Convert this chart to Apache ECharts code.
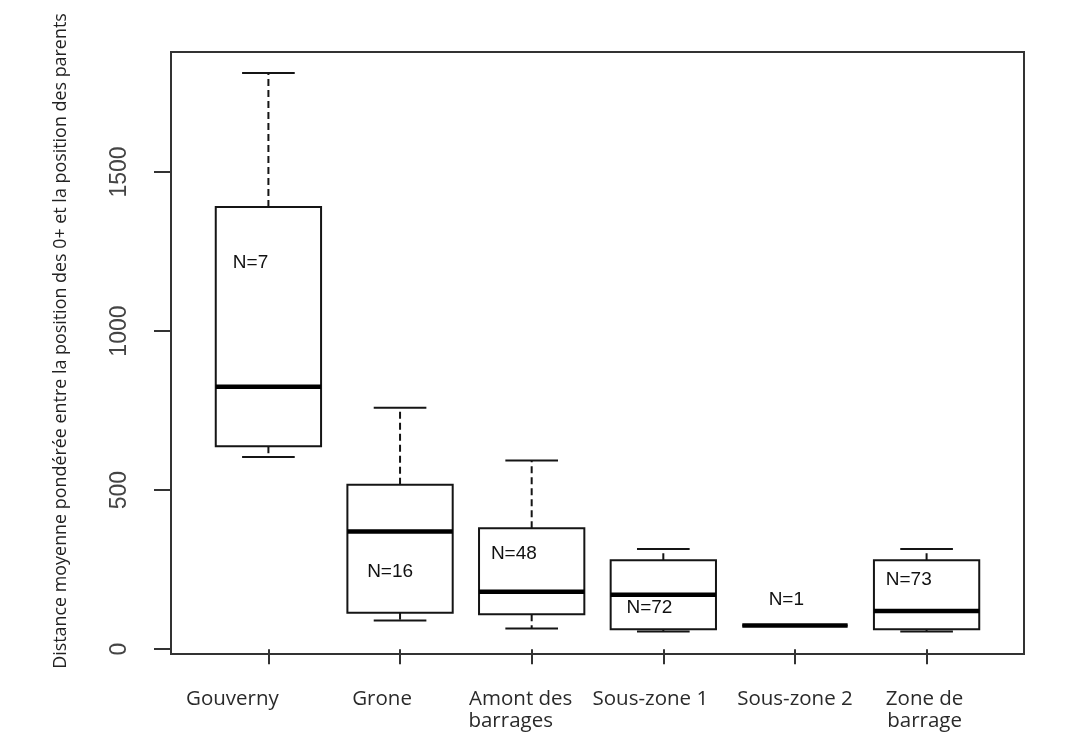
<!DOCTYPE html>
<html>
<head>
<meta charset="utf-8">
<script src="https://cdn.jsdelivr.net/npm/echarts@6/dist/echarts.min.js"></script>
<style>
  html, body { margin: 0; padding: 0; background: #fff; }
  #chart { width: 1074px; height: 736px; }
</style>
</head>
<body>
<div id="chart"></div>
<script>
// groupes (axe x)
const categories = ['Gouverny', 'Grone', 'Amont des\nbarrages', 'Sous-zone 1', 'Sous-zone 2', 'Zone de\nbarrage']
// statistiques des boites
const lowWhisker = [604, 90, 65, 56, 74.5, 56]
const q1 = [638, 115, 110, 63, 74.5, 63]
const median = [825, 370, 181, 171, 74.5, 120]
const q3 = [1390, 517, 380, 280, 74.5, 280]
const highWhisker = [1811, 759, 593, 315, 74.5, 315]
// effectifs ecrits dans le graphe
const nLabels = ['N=7', 'N=16', 'N=48', 'N=72', 'N=1', 'N=73']
const nLabelX = [0.73, 1.75, 2.69, 3.72, 4.80, 5.69]
const nLabelY = [1214, 242, 299, 129, 157, 217]
// graduations
const yTicks = [0, 500, 1000, 1500]
const xTicks = [1, 2, 3, 4, 5, 6]

const yTitle = 'Distance moyenne pondérée entre la position des 0+ et la position des parents'
const ink = '#151515'

// decalage des etiquettes x (placees a la main dans l'original)
const labelShift = [72, 36, 22, 26, 0, 4]

function xLabel (v) {
  const i = Math.round(v) - 1
  const lines = categories[i].split('\n')
  if (i === 2) {
    return '{s' + i + '|' + lines[0] + '}\n{b2|' + lines[1] + '}'
  }
  return lines.map(l => '{s' + i + '|' + l + '}').join('\n')
}

const labelFont = { fontFamily: 'Open Sans', fontSize: 20.5, color: '#2a2a2a', lineHeight: 22 }
const rich = {}
labelShift.forEach((s, i) => {
  rich['s' + i] = Object.assign({ padding: [0, s, 0, 0] }, labelFont)
})
rich.b2 = Object.assign({ padding: [0, 42, 0, 0] }, labelFont)

function renderBox (params, api) {
  const x = api.value(0)
  const cx = api.coord([x, 0])[0]
  const left = api.coord([x - 0.4, 0])[0]
  const right = api.coord([x + 0.4, 0])[0]
  const capL = api.coord([x - 0.2, 0])[0]
  const capR = api.coord([x + 0.2, 0])[0]
  const yLow = api.coord([x, api.value(1)])[1]
  const yQ1 = api.coord([x, api.value(2)])[1]
  const yMed = api.coord([x, api.value(3)])[1]
  const yQ3 = api.coord([x, api.value(4)])[1]
  const yHigh = api.coord([x, api.value(5)])[1]
  const dash = { stroke: ink, lineWidth: 2, lineDash: [7, 4] }
  const solid = { stroke: ink, lineWidth: 2 }
  return {
    type: 'group',
    children: [
      { type: 'line', shape: { x1: cx, y1: yQ3, x2: cx, y2: yHigh }, style: dash },
      { type: 'line', shape: { x1: cx, y1: yQ1, x2: cx, y2: yLow }, style: dash },
      { type: 'line', shape: { x1: capL, y1: yHigh, x2: capR, y2: yHigh }, style: solid },
      { type: 'line', shape: { x1: capL, y1: yLow, x2: capR, y2: yLow }, style: solid },
      { type: 'rect', shape: { x: left, y: yQ3, width: right - left, height: yQ1 - yQ3 }, style: { fill: '#fff', stroke: ink, lineWidth: 2 } },
      { type: 'line', shape: { x1: left, y1: yMed, x2: right, y2: yMed }, style: { stroke: '#000', lineWidth: 4.5 } }
    ]
  }
}

function renderLabel (params, api) {
  const p = api.coord([api.value(0), api.value(1)])
  return {
    type: 'text',
    x: p[0],
    y: p[1],
    style: {
      text: nLabels[params.dataIndex],
      fontFamily: 'Liberation Sans', fontSize: 19, fill: '#111',
      align: 'left', verticalAlign: 'middle'
    }
  }
}

const boxData = categories.map((c, i) => [i + 1, lowWhisker[i], q1[i], median[i], q3[i], highWhisker[i]])
const labelData = nLabels.map((n, i) => [nLabelX[i], nLabelY[i]])

const chart = echarts.init(document.getElementById('chart'))
chart.setOption({
  backgroundColor: '#fff',
  animation: false,
  grid: {
    left: 171, right: 50, top: 52, bottom: 82,
    show: true, borderColor: '#333', borderWidth: 2, backgroundColor: 'transparent'
  },
  xAxis: {
    type: 'value', min: 0.26, max: 6.74,
    axisLine: { show: false },
    splitLine: { show: false },
    axisTick: { show: true, customValues: xTicks, length: 15, lineStyle: { color: '#333', width: 2 } },
    axisLabel: {
      show: true, customValues: xTicks, margin: 34, formatter: xLabel, rich: rich,
      showMinLabel: true, showMaxLabel: true, hideOverlap: false
    }
  },
  yAxis: {
    type: 'value', min: -15, max: 1877,
    axisLine: { show: false },
    splitLine: { show: false },
    axisTick: { show: true, customValues: yTicks, length: 17, lineStyle: { color: '#333', width: 2 } },
    axisLabel: {
      show: true, customValues: yTicks, rotate: 90, margin: 40,
      fontFamily: 'Liberation Sans', fontSize: 23, color: '#444',
      formatter: v => String(v)
    }
  },
  graphic: [{
    type: 'text', x: 61, y: 341, rotation: Math.PI / 2,
    style: {
      text: yTitle, fontFamily: 'Open Sans', fontSize: 17.9, fill: '#222',
      align: 'center', verticalAlign: 'middle'
    }
  }],
  series: [
    {
      type: 'custom',
      renderItem: renderBox,
      encode: { x: 0, y: [1, 2, 3, 4, 5] },
      data: boxData,
      silent: true
    },
    {
      type: 'custom',
      renderItem: renderLabel,
      encode: { x: 0, y: 1 },
      data: labelData,
      silent: true
    }
  ]
})
</script>
</body>
</html>
